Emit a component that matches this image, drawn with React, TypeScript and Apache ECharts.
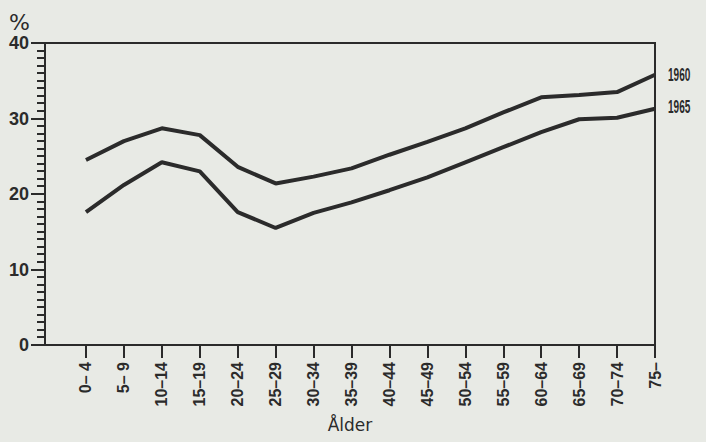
import React, { useEffect, useRef } from "react";
import * as echarts from "echarts";

const ageGroups = ["0– 4", "5– 9", "10–14", "15–19", "20–24", "25–29", "30–34", "35–39", "40–44", "45–49", "50–54", "55–59", "60–64", "65–69", "70–74", "75–"];
const values1960 = [24.5, 27.0, 28.7, 27.8, 23.6, 21.4, 22.3, 23.4, 25.2, 26.9, 28.7, 30.8, 32.8, 33.1, 33.5, 35.8];
const values1965 = [17.6, 21.2, 24.2, 23.0, 17.6, 15.5, 17.5, 18.9, 20.5, 22.2, 24.2, 26.2, 28.2, 29.9, 30.1, 31.3];
const seriesNames = ["1960", "1965"];
const minorTickValues = Array.from({ length: 41 }, (_, i) => i).filter((v) => v % 10 !== 0);

const INK = "#2b2b2b";
const BG = "#e8eae5";
const LABEL_FONT = "'Liberation Sans', Arial, sans-serif";
const X_MIN = -1.08;

export default function App() {
  const ref = useRef<HTMLDivElement>(null);
  useEffect(() => {
    if (!ref.current) return;
    const chart = echarts.init(ref.current, undefined, { renderer: "svg" });
    const idx = ageGroups.map((_, i) => i);
    const mk = (vals: number[]) => vals.map((v, i) => [i, v]);
    const allSeries = [values1960, values1965];
    chart.setOption({
      animation: false,
      backgroundColor: BG,
      textStyle: { color: INK },
      grid: {
        left: 45,
        right: 51,
        top: 43,
        bottom: 97,
        show: true,
        borderColor: INK,
        borderWidth: 2,
        backgroundColor: "transparent",
        outerBoundsMode: "none",
        containLabel: false,
      },
      graphic: [
        {
          id: "pct",
          type: "text",
          left: 9,
          top: 11,
          style: { text: "%", fontSize: 22, fill: INK, fontFamily: "'DejaVu Sans', sans-serif" },
        },
      ],
      xAxis: {
        type: "value",
        min: X_MIN,
        max: 15,
        name: "Ålder",
        nameLocation: "middle",
        nameGap: 71,
        nameTextStyle: { fontSize: 17, color: INK, fontFamily: "'DejaVu Sans', sans-serif" },
        axisLine: { show: true, onZero: false, lineStyle: { color: INK, width: 2 } },
        axisTick: {
          show: true,
          customValues: idx,
          length: 13,
          lineStyle: { color: INK, width: 2 },
        },
        axisLabel: {
          customValues: idx,
          rotate: 90,
          margin: 17,
          fontSize: 16,
          fontWeight: "bold",
          color: INK,
          fontFamily: LABEL_FONT,
          formatter: (v: number) => ageGroups[Math.round(v)] ?? "",
        },
        splitLine: { show: false },
      },
      yAxis: {
        type: "value",
        min: 0,
        max: 40,
        interval: 10,
        axisLine: { show: true, onZero: false, lineStyle: { color: INK, width: 2 } },
        axisTick: {
          show: true,
          length: 14,
          lineStyle: { color: INK, width: 2 },
        },
        axisLabel: {
          margin: 16,
          fontSize: 18,
          fontWeight: "bold",
          color: INK,
          fontFamily: LABEL_FONT,
        },
        splitLine: { show: false },
      },
      series: allSeries.map((vals, i) => ({
        name: seriesNames[i],
        type: "line",
        data: mk(vals),
        symbol: "none",
        lineStyle: { color: INK, width: 4 },
      })),
    });
    const endLabels: any[] = allSeries.map((vals, i) => {
      const last = vals.length - 1;
      const p = chart.convertToPixel({ seriesIndex: i }, [last, vals[last]]) as number[];
      return {
        id: "end" + i,
        type: "text",
        x: p[0] + 13,
        y: p[1] + (i === 0 ? 0 : -2),
        scaleX: 0.56,
        style: {
          text: seriesNames[i],
          fontSize: 18,
          fontWeight: "bold",
          fontFamily: LABEL_FONT,
          fill: INK,
          align: "left",
          verticalAlign: "middle",
        },
      };
    });
    const axisX = Math.round(chart.convertToPixel({ xAxisIndex: 0 }, X_MIN) as number);
    const minorTicks = minorTickValues.map((v, k) => {
      const py = Math.round(chart.convertToPixel({ yAxisIndex: 0 }, v) as number);
      return {
        id: "mt" + k,
        type: "line",
        shape: { x1: axisX - 8, y1: py, x2: axisX, y2: py },
        style: { stroke: INK, lineWidth: 2 },
        z: 10,
      };
    });
    chart.setOption({ graphic: [...endLabels, ...minorTicks] });
    return () => chart.dispose();
  }, []);
  return <div ref={ref} style={{ width: 706, height: 442, position: "fixed", left: 0, top: 0 }} />;
}
